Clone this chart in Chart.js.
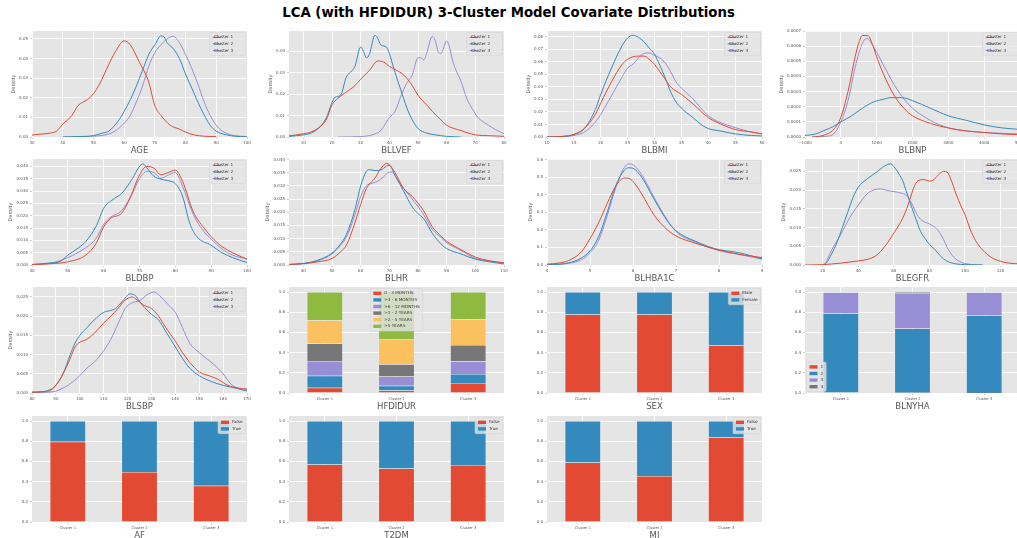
<!DOCTYPE html>
<html lang="en">
<head>
<meta charset="UTF-8">
<title>LCA 3-Cluster Covariate Distributions</title>
<script src="https://cdn.jsdelivr.net/npm/chart.js"></script>
<style>
  body { margin: 0; width: 1017px; height: 538px; overflow: hidden; background: #fff; position: relative; font-family: "DejaVu Sans", sans-serif; }
  h1 { position: absolute; top: 5px; left: 0; width: 1017px; margin: 0; text-align: center; font-size: 13.3px; line-height: 16px; font-weight: bold; color: #000; }
  canvas { position: absolute; }
</style>
</head>
<body>
<h1>LCA (with HFDIDUR) 3-Cluster Model Covariate Distributions</h1>
<script>
// ---------- data ----------
const clusters = ['Cluster 1', 'Cluster 2', 'Cluster 3'];

// AGE
const ageC1 = [[30,0.001],[33,0.0015],[36,0.002],[38,0.003],[40,0.0065],[43,0.011],[45,0.016],[48,0.019],[50,0.022],[52,0.027],[55,0.037],[57,0.043],[60,0.049],[62,0.047],[65,0.038],[67,0.032],[68,0.028],[70,0.016],[72,0.011],[75,0.006],[78,0.004],[80,0.0025],[83,0.001],[86,0.0004],[90,0.0002]];
const ageC2 = [[40,0],[45,0.0002],[50,0.0007],[53,0.002],[55,0.003],[58,0.008],[60,0.013],[62,0.019],[64,0.026],[66,0.034],[68,0.042],[70,0.047],[72,0.0515],[73,0.051],[74,0.048],[76,0.045],[78,0.04],[80,0.032],[82,0.025],[85,0.0145],[88,0.006],[90,0.003],[93,0.0012],[96,0.0004],[100,0.0001]];
const ageC3 = [[40,0],[45,0.0001],[50,0.0004],[55,0.0015],[57,0.003],[60,0.007],[62,0.011],[64,0.018],[66,0.026],[68,0.036],[70,0.043],[72,0.047],[74,0.05],[76,0.0513],[78,0.048],[80,0.042],[82,0.035],[84,0.027],[86,0.018],[88,0.011],[90,0.006],[92,0.003],[95,0.001],[100,0.0002]];
const ageX = [30,40,50,60,70,80,90,100];
const ageY = [0,0.01,0.02,0.03,0.04,0.05];

// BLLVEF
const lvefC1 = [[5,0.0005],[10,0.0015],[13,0.0025],[16,0.005],[18,0.008],[20,0.015],[22,0.018],[25,0.021],[28,0.024],[30,0.027],[33,0.031],[36,0.0355],[38,0.035],[40,0.033],[42,0.0315],[45,0.029],[48,0.024],[50,0.0195],[53,0.015],[55,0.012],[58,0.008],[60,0.0055],[65,0.003],[70,0.001],[75,0.0006],[80,0.0003]];
const lvefC2 = [[5,0.0003],[10,0.001],[13,0.002],[16,0.005],[18,0.009],[20,0.016],[21,0.0185],[23,0.0195],[25,0.028],[27,0.031],[28,0.033],[30,0.042],[31,0.04],[32,0.037],[33,0.0385],[35,0.0475],[36,0.046],[37,0.043],[39,0.042],[40,0.039],[42,0.03],[44,0.022],[46,0.014],[48,0.008],[50,0.004],[53,0.0018],[56,0.001],[60,0.0003],[65,0]];
const lvefC3 = [[22,0],[30,0.0002],[34,0.001],[37,0.003],[39,0.007],[40,0.009],[42,0.012],[44,0.019],[46,0.025],[48,0.029],[50,0.037],[51,0.037],[52,0.036],[53,0.039],[55,0.047],[56,0.045],[57,0.04],[58,0.039],[60,0.0448],[61,0.042],[62,0.036],[63,0.032],[65,0.026],[67,0.018],[69,0.013],[71,0.009],[74,0.006],[77,0.0035],[80,0.0015]];
const lvefX = [10,20,30,40,50,60,70,80];
const lvefY = [0,0.01,0.02,0.03,0.04];

// BLBMI
const bmiC1 = [[10,0],[13,0.0005],[15,0.002],[17,0.007],[19,0.018],[20,0.027],[22,0.044],[24,0.058],[25,0.062],[27,0.0645],[28,0.0645],[29,0.062],[30,0.058],[31,0.052],[32,0.046],[33,0.04],[35,0.034],[37,0.027],[40,0.0155],[42,0.011],[45,0.006],[48,0.004],[50,0.0025]];
const bmiC2 = [[10,0],[13,0.0005],[15,0.002],[17,0.007],[19,0.022],[20,0.034],[22,0.055],[24,0.073],[25,0.079],[26,0.081],[27,0.0795],[28,0.076],[29,0.071],[30,0.066],[31,0.057],[32,0.047],[33,0.036],[34,0.028],[35,0.023],[37,0.016],[39,0.009],[40,0.0067],[42,0.005],[45,0.0025],[48,0.0012],[50,0.0008]];
const bmiC3 = [[10,0],[13,0.0003],[15,0.0012],[17,0.004],[19,0.012],[20,0.018],[22,0.033],[24,0.048],[25,0.055],[26,0.058],[27,0.063],[28,0.0665],[29,0.067],[30,0.065],[31,0.063],[32,0.059],[33,0.052],[34,0.044],[35,0.039],[37,0.031],[40,0.017],[42,0.012],[45,0.0075],[48,0.004],[50,0.0025]];
const bmiX = [10,15,20,25,30,35,40,45,50];
const bmiY = [0,0.01,0.02,0.03,0.04,0.05,0.06,0.07,0.08];

// BLBNP
const bnpC1 = [[-800,0],[-500,0.00001],[-200,0.00005],[0,0.00013],[200,0.0003],[400,0.00053],[500,0.00062],[600,0.00067],[750,0.00067],[900,0.0006],[1000,0.00053],[1200,0.00041],[1500,0.00027],[1800,0.00018],[2000,0.00014],[2500,0.00009],[3000,0.00006],[3500,0.00004],[4000,0.00003],[4500,0.00002],[5000,0.000015]];
const bnpC2 = [[-1000,0.00001],[-700,0.00002],[-500,0.00004],[-200,0.00007],[0,0.0001],[300,0.00014],[600,0.00019],[900,0.00023],[1200,0.00025],[1400,0.00026],[1700,0.00026],[2000,0.00024],[2500,0.00019],[3000,0.00014],[3500,0.00011],[4000,0.00008],[4500,0.00006],[5000,0.00005]];
const bnpC3 = [[-800,0],[-400,0.000005],[-200,0.00002],[0,0.0001],[200,0.00024],[400,0.00046],[500,0.00055],[650,0.00064],[750,0.00065],[850,0.00062],[1000,0.00056],[1200,0.00047],[1500,0.00034],[1800,0.00024],[2000,0.00019],[2500,0.00011],[3000,0.00006],[3500,0.00004],[4000,0.00003],[5000,0.00002]];
const bnpX = [-1000,0,1000,2000,3000,4000,5000];
const bnpY = [0,0.0001,0.0002,0.0003,0.0004,0.0005,0.0006,0.0007];

// BLDBP
const dbpC1 = [[40,0.0002],[45,0.0005],[50,0.0013],[55,0.004],[58,0.009],[60,0.0155],[62,0.019],[65,0.021],[67,0.026],[70,0.0365],[72,0.04],[74,0.0393],[76,0.0366],[78,0.0375],[80,0.0385],[82,0.034],[85,0.0216],[88,0.015],[90,0.0115],[93,0.0075],[96,0.005],[100,0.0023]];
const dbpC2 = [[40,0.0002],[45,0.0008],[48,0.0015],[50,0.004],[53,0.007],[55,0.0095],[58,0.016],[60,0.023],[63,0.027],[65,0.029],[68,0.035],[70,0.04],[71,0.041],[72,0.0395],[74,0.036],[76,0.0348],[78,0.0342],[80,0.033],[82,0.028],[84,0.017],[86,0.0115],[90,0.008],[93,0.005],[96,0.003],[100,0.001]];
const dbpC3 = [[40,0.0002],[45,0.0007],[50,0.003],[55,0.007],[58,0.011],[60,0.0165],[62,0.0195],[65,0.022],[68,0.029],[70,0.035],[72,0.038],[74,0.0375],[76,0.0352],[78,0.0365],[80,0.0375],[82,0.032],[85,0.0205],[88,0.0135],[90,0.0105],[93,0.0065],[96,0.004],[100,0.0025]];
const dbpX = [40,50,60,70,80,90,100];
const dbpY = [0,0.005,0.01,0.015,0.02,0.025,0.03,0.035,0.04];

// BLHR
const hrC1 = [[35,0.0002],[40,0.0005],[45,0.0012],[50,0.0025],[53,0.005],[55,0.0075],[58,0.016],[60,0.023],[62,0.029],[65,0.033],[67,0.0365],[69,0.0385],[70,0.038],[72,0.035],[75,0.029],[78,0.026],[80,0.0235],[82,0.0205],[85,0.0145],[88,0.011],[90,0.009],[93,0.007],[96,0.0052],[100,0.003],[105,0.0016],[110,0.0008]];
const hrC2 = [[35,0.0002],[40,0.0006],[45,0.0018],[50,0.0045],[53,0.008],[55,0.0115],[58,0.021],[60,0.03],[62,0.0355],[63,0.0362],[65,0.0358],[67,0.036],[69,0.0375],[70,0.0378],[72,0.034],[75,0.028],[78,0.022],[80,0.0195],[82,0.0175],[85,0.012],[88,0.008],[90,0.0062],[95,0.0042],[100,0.0022],[105,0.0012],[110,0.0004]];
const hrC3 = [[35,0.0002],[40,0.0005],[45,0.0016],[50,0.0042],[53,0.0075],[55,0.0105],[58,0.019],[60,0.026],[62,0.03],[64,0.031],[66,0.0318],[68,0.0335],[70,0.0352],[71,0.0352],[73,0.032],[75,0.029],[78,0.025],[80,0.0222],[82,0.019],[85,0.0135],[88,0.0105],[90,0.0085],[95,0.0055],[100,0.0025],[105,0.0015],[110,0.0008]];
const hrX = [40,50,60,70,80,90,100,110];
const hrY = [0,0.005,0.01,0.015,0.02,0.025,0.03,0.035,0.04];

// BLHBA1C
const hbaC1 = [[4,0.005],[4.3,0.012],[4.5,0.025],[4.8,0.075],[5,0.15],[5.2,0.24],[5.4,0.35],[5.6,0.45],[5.8,0.495],[5.9,0.493],[6,0.475],[6.2,0.405],[6.5,0.28],[6.8,0.2],[7,0.165],[7.5,0.12],[8,0.085],[8.5,0.06],[9,0.042]];
const hbaC2 = [[4,0.002],[4.3,0.005],[4.5,0.012],[4.8,0.04],[5,0.08],[5.2,0.16],[5.4,0.3],[5.6,0.45],[5.8,0.54],[5.9,0.553],[6,0.55],[6.2,0.5],[6.5,0.37],[6.8,0.25],[7,0.195],[7.5,0.13],[8,0.087],[8.3,0.077],[8.6,0.062],[9,0.035]];
const hbaC3 = [[4,0.001],[4.3,0.004],[4.5,0.009],[4.8,0.03],[5,0.07],[5.2,0.14],[5.4,0.28],[5.6,0.44],[5.8,0.555],[5.9,0.575],[6,0.57],[6.2,0.515],[6.5,0.38],[6.8,0.255],[7,0.19],[7.5,0.125],[8,0.082],[8.5,0.058],[9,0.034]];
const hbaX = [4,5,6,7,8,9];
const hbaY = [0,0.1,0.2,0.3,0.4,0.5,0.6];

// BLEGFR
const egfrC1 = [[10,0],[20,0.0001],[30,0.0005],[40,0.0011],[45,0.0015],[50,0.0025],[55,0.005],[60,0.0085],[65,0.0125],[68,0.016],[70,0.019],[72,0.0215],[74,0.0226],[77,0.0228],[80,0.0224],[82,0.0226],[85,0.024],[88,0.025],[90,0.0248],[92,0.023],[95,0.019],[98,0.0155],[100,0.0135],[103,0.0095],[106,0.0065],[110,0.004],[115,0.002],[120,0.001],[125,0.0005],[131,0.0003]];
const egfrC2 = [[20,0],[22,0.0005],[25,0.003],[28,0.006],[31,0.01],[34,0.014],[37,0.018],[40,0.0208],[45,0.023],[50,0.0247],[55,0.0265],[58,0.027],[60,0.0263],[63,0.0242],[65,0.0225],[67,0.0197],[70,0.0155],[73,0.0115],[75,0.009],[78,0.0068],[80,0.0055],[83,0.0042],[86,0.0025],[90,0.001],[95,0.0003],[100,0.0001],[110,0]];
const egfrC3 = [[20,0],[22,0.001],[25,0.004],[30,0.008],[35,0.0125],[40,0.016],[45,0.019],[50,0.0202],[53,0.0203],[56,0.0199],[60,0.0196],[64,0.0192],[67,0.0186],[70,0.0165],[73,0.0135],[76,0.0118],[80,0.011],[83,0.0101],[85,0.0092],[88,0.0068],[90,0.0047],[93,0.0025],[96,0.0012],[100,0.0004],[110,0]];
const egfrX = [20,40,60,80,100,120];
const egfrY = [0,0.005,0.01,0.015,0.02,0.025];

// BLSBP
const sbpC1 = [[80,0.0002],[85,0.0003],[88,0.0008],[90,0.002],[93,0.005],[96,0.009],[98,0.012],[100,0.0132],[103,0.014],[106,0.0155],[110,0.0182],[113,0.02],[116,0.022],[119,0.0242],[122,0.025],[124,0.0242],[127,0.0228],[130,0.022],[133,0.02],[136,0.017],[140,0.0135],[143,0.0105],[146,0.008],[150,0.0055],[155,0.0043],[158,0.0035],[162,0.002],[166,0.0013],[170,0.001]];
const sbpC2 = [[80,0.0002],[85,0.0004],[88,0.001],[90,0.002],[93,0.005],[96,0.01],[98,0.013],[100,0.015],[103,0.017],[106,0.019],[110,0.021],[113,0.0215],[115,0.022],[118,0.024],[121,0.0258],[123,0.0255],[126,0.023],[130,0.0205],[133,0.019],[136,0.016],[140,0.012],[143,0.009],[146,0.0065],[150,0.0045],[155,0.003],[160,0.002],[165,0.0013],[170,0.0005]];
const sbpC3 = [[80,0.0002],[85,0.0002],[90,0.0005],[95,0.002],[100,0.0045],[103,0.0065],[106,0.008],[110,0.011],[113,0.014],[116,0.018],[119,0.022],[122,0.0235],[125,0.024],[128,0.0255],[131,0.0263],[134,0.025],[137,0.023],[140,0.021],[143,0.017],[146,0.013],[150,0.0105],[153,0.009],[156,0.0075],[160,0.005],[163,0.0025],[166,0.0013],[170,0.001]];
const sbpX = [80,90,100,110,120,130,140,150,160,170];
const sbpY = [0,0.005,0.01,0.015,0.02,0.025];

// stacked proportion bars (one row per category, one value per cluster)
const barY = [0,0.2,0.4,0.6,0.8,1.0];
const hfdidurCats = ['0 - 3 MONTHS', '>3 - 6 MONTHS', '>6 - 12 MONTHS', '>1 - 2 YEARS', '>2 - 5 YEARS', '>5 YEARS'];
const hfdidurVals = [[0.052,0.026,0.098],[0.118,0.046,0.089],[0.148,0.092,0.128],[0.172,0.121,0.16],[0.23,0.245,0.255],[0.28,0.47,0.27]];
const sexCats = ['Male', 'Female'];
const sexVals = [[0.777,0.778,0.472],[0.223,0.222,0.528]];
const nyhaCats = ['1', '2', '3', '4'];
const nyhaVals = [[0,0.002,0.001],[0.787,0.637,0.77],[0.21,0.351,0.226],[0.003,0.01,0.003]];
const boolCats = ['False', 'True'];
const afVals = [[0.795,0.495,0.36],[0.205,0.505,0.64]];
const t2dmVals = [[0.57,0.53,0.565],[0.43,0.47,0.435]];
const miVals = [[0.59,0.455,0.84],[0.41,0.545,0.16]];

// ---------- style / layout ----------
const colors = ['#E24A33', '#348ABD', '#988ED5', '#777777', '#FBC15E', '#8EBA42'];
const COLX = [32, 289, 547, 805];
const ROWY = [31, 159, 287, 416];
const PW = 215, PH = 106, YW = 36, XH = 19, PADT = 6, PADR = 10;
const TICKF = { size: 4, family: '"DejaVu Sans", sans-serif' };

Chart.defaults.font.family = '"DejaVu Sans", sans-serif';
Chart.defaults.color = '#555';

const bgPlugin = {
  id: 'bg',
  beforeDraw(chart) {
    const { ctx, chartArea: a } = chart;
    ctx.save();
    ctx.fillStyle = '#E5E5E5';
    ctx.fillRect(a.left, a.top, a.width, a.height);
    ctx.restore();
  }
};

// legend drawn inside the axes, plus the rotated "Density" label
const inLegend = {
  id: 'inLegend',
  afterDraw(chart, args, o) {
    const ctx = chart.ctx, a = chart.chartArea;
    ctx.save();
    if (o.ylab) {
      const ys = chart.scales.y;
      ctx.font = '4px "DejaVu Sans"';
      const w = Math.max(...ys.ticks.map(t => ctx.measureText(t.label).width));
      ctx.translate(a.left - 2 - 2 - w - 3 - 2.5, (a.top + a.bottom) / 2);
      ctx.rotate(-Math.PI / 2);
      ctx.font = '5px "DejaVu Sans"';
      ctx.fillStyle = '#555';
      ctx.textAlign = 'center';
      ctx.textBaseline = 'middle';
      ctx.fillText(o.ylab, 0, 0);
      ctx.setTransform(1, 0, 0, 1, 0, 0);
    }
    if (o.where) {
      const sets = chart.data.datasets;
      ctx.font = '4.2px "DejaVu Sans"';
      const tw = Math.max(...sets.map(d => ctx.measureText(d.label).width));
      const hl = 8, pad = 3, gap = 3, rowH = 6.6;
      const bw = pad + hl + gap + tw + pad, bh = rowH * sets.length + 3;
      let bx, by;
      if (o.where === 'tr') { bx = a.right - bw - 1.5; by = a.top + 1.5; }
      else if (o.where === 'tc') { bx = (a.left + a.right - bw) / 2; by = a.top + 1.5; }
      else { bx = a.left + 1.5; by = a.bottom - bh - 1.5; }
      ctx.fillStyle = 'rgba(229,229,229,0.8)';
      ctx.strokeStyle = '#d2d2d2';
      ctx.lineWidth = 0.5;
      ctx.beginPath();
      ctx.roundRect(bx, by, bw, bh, 1.5);
      ctx.fill();
      ctx.stroke();
      sets.forEach((d, i) => {
        const cy = by + 1.5 + rowH * (i + 0.5);
        if (o.kind === 'line') {
          ctx.strokeStyle = d.borderColor;
          ctx.lineWidth = 1;
          ctx.beginPath();
          ctx.moveTo(bx + pad, cy);
          ctx.lineTo(bx + pad + hl, cy);
          ctx.stroke();
        } else {
          ctx.fillStyle = d.backgroundColor;
          ctx.fillRect(bx + pad, cy - 1.7, hl, 3.4);
        }
        ctx.fillStyle = '#333';
        ctx.textBaseline = 'middle';
        ctx.fillText(d.label, bx + pad + hl + gap, cy);
      });
    }
    ctx.restore();
  }
};

function place(col, row) {
  const c = document.createElement('canvas');
  c.width = PW + YW + PADR;
  c.height = PH + PADT + XH;
  c.style.left = (COLX[col] - YW) + 'px';
  c.style.top = (ROWY[row] - PADT) + 'px';
  document.body.appendChild(c);
  return c;
}

function fmt(v, dec) {
  const s = Math.abs(v).toFixed(dec);
  return v < 0 ? '\u2212' + s : s;
}

const gridOpts = { color: '#fff', lineWidth: 0.8, tickLength: 2, tickColor: '#999', tickWidth: 0.5 };

function yAxis(max, ticks, dec, stacked) {
  return {
    min: 0, max, stacked,
    afterFit: s => { s.width = YW; },
    afterBuildTicks: s => { s.ticks = ticks.map(v => ({ value: v })); },
    ticks: { font: TICKF, color: '#555', padding: 2, callback: v => fmt(v, dec) },
    grid: gridOpts,
    border: { display: false }
  };
}

function xTitle(text) {
  return { display: true, text, color: '#555', font: { size: 8.5 }, padding: 0 };
}

function density(col, row, label, series, xmin, xmax, xticks, ymax, yticks, ydec) {
  new Chart(place(col, row), {
    type: 'line',
    data: {
      datasets: series.map((s, i) => ({
        label: clusters[i],
        data: s.map(p => ({ x: p[0], y: p[1] })),
        borderColor: colors[i],
        borderWidth: 1,
        pointRadius: 0,
        cubicInterpolationMode: 'monotone',
        fill: false
      }))
    },
    options: {
      responsive: false, animation: false, events: [], devicePixelRatio: 1,
      layout: { padding: { top: PADT, right: PADR, left: 0, bottom: 0 } },
      plugins: { legend: { display: false }, tooltip: { enabled: false },
        inLegend: { where: 'tr', kind: 'line', ylab: 'Density' } },
      scales: {
        x: {
          type: 'linear', min: xmin, max: xmax,
          afterFit: s => { s.height = XH; },
          afterBuildTicks: s => { s.ticks = xticks.map(v => ({ value: v })); },
          ticks: { font: TICKF, color: '#555', padding: 1.5, maxRotation: 0, callback: v => fmt(v, 0) },
          grid: gridOpts, border: { display: false },
          title: xTitle(label)
        },
        y: yAxis(ymax, yticks, ydec, false)
      }
    },
    plugins: [bgPlugin, inLegend]
  });
}

function stacked(col, row, label, cats, vals, where) {
  new Chart(place(col, row), {
    type: 'bar',
    data: {
      labels: clusters,
      datasets: cats.map((c, i) => ({
        label: c,
        data: vals[i],
        backgroundColor: colors[i],
        borderColor: 'rgba(255,255,255,0.35)',
        borderWidth: 0.5,
        barPercentage: 0.5,
        categoryPercentage: 1.0
      }))
    },
    options: {
      responsive: false, animation: false, events: [], devicePixelRatio: 1,
      layout: { padding: { top: PADT, right: PADR, left: 0, bottom: 0 } },
      plugins: { legend: { display: false }, tooltip: { enabled: false },
        inLegend: { where, kind: 'patch' } },
      scales: {
        x: {
          stacked: true,
          afterFit: s => { s.height = XH; },
          ticks: { font: { size: 3.6 }, color: '#555', padding: 1.5, maxRotation: 0 },
          grid: Object.assign({ offset: false }, gridOpts), border: { display: false },
          title: xTitle(label)
        },
        y: yAxis(1.05, barY, 1, true)
      }
    },
    plugins: [bgPlugin, inLegend]
  });
}

// ---------- panels ----------
density(0, 0, 'AGE', [ageC1, ageC2, ageC3], 30, 100, ageX, 0.054, ageY, 2);
density(1, 0, 'BLLVEF', [lvefC1, lvefC2, lvefC3], 5, 80, lvefX, 0.0495, lvefY, 2);
density(2, 0, 'BLBMI', [bmiC1, bmiC2, bmiC3], 10, 50, bmiX, 0.0845, bmiY, 2);
density(3, 0, 'BLBNP', [bnpC1, bnpC2, bnpC3], -1000, 5000, bnpX, 0.0007, bnpY, 4);
density(0, 1, 'BLDBP', [dbpC1, dbpC2, dbpC3], 40, 100, dbpX, 0.043, dbpY, 3);
density(1, 1, 'BLHR', [hrC1, hrC2, hrC3], 35, 110, hrX, 0.0402, hrY, 3);
density(2, 1, 'BLHBA1C', [hbaC1, hbaC2, hbaC3], 4, 9, hbaX, 0.603, hbaY, 1);
density(3, 1, 'BLEGFR', [egfrC1, egfrC2, egfrC3], 10, 131, egfrX, 0.0283, egfrY, 3);
density(0, 2, 'BLSBP', [sbpC1, sbpC2, sbpC3], 80, 170, sbpX, 0.0276, sbpY, 3);
stacked(1, 2, 'HFDIDUR', hfdidurCats, hfdidurVals, 'tc');
stacked(2, 2, 'SEX', sexCats, sexVals, 'tr');
stacked(3, 2, 'BLNYHA', nyhaCats, nyhaVals, 'bl');
stacked(0, 3, 'AF', boolCats, afVals, 'tr');
stacked(1, 3, 'T2DM', boolCats, t2dmVals, 'tr');
stacked(2, 3, 'MI', boolCats, miVals, 'tr');
</script>
</body>
</html>
